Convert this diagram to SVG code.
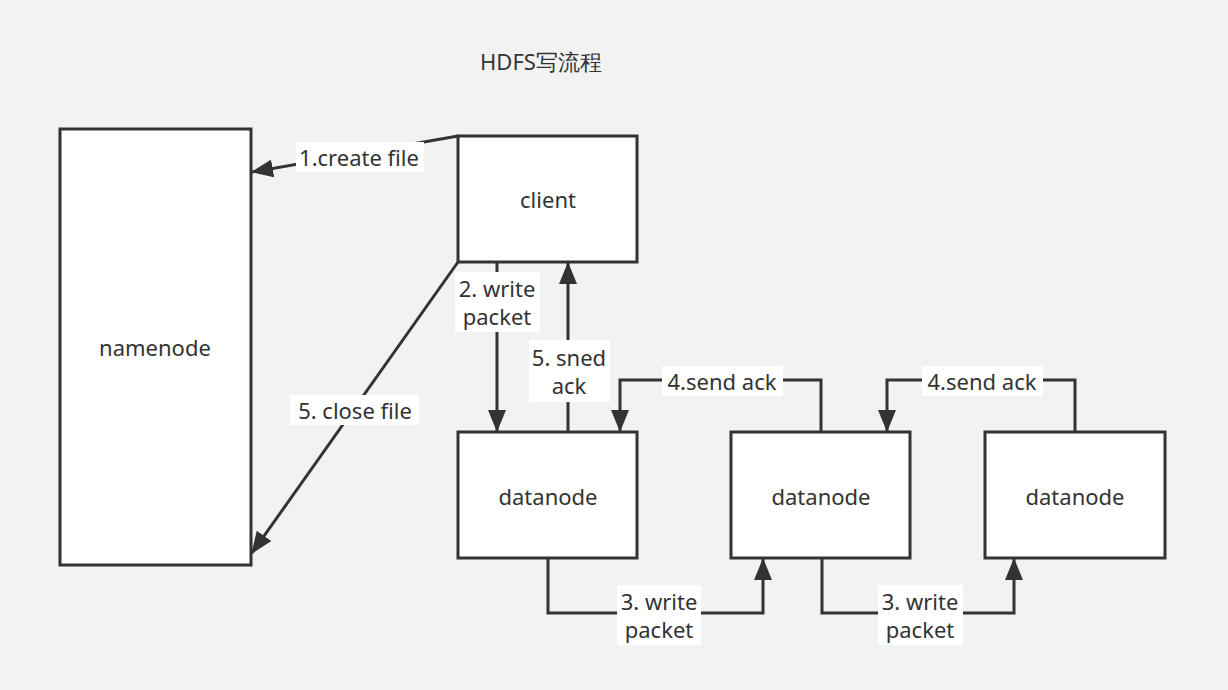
<svg xmlns="http://www.w3.org/2000/svg" width="1228" height="690" viewBox="0 0 1228 690">
<defs>
<style>
.node{fill:#fff;stroke:#333;stroke-width:3}
.edge{fill:none;stroke:#333;stroke-width:3}
text{font-family:"Noto Sans","Liberation Sans",sans-serif;font-size:22px;fill:#333;text-anchor:middle;dominant-baseline:central}
.lbg{fill:#fff}
</style>
<marker id="ah" markerUnits="userSpaceOnUse" markerWidth="22" markerHeight="18" viewBox="0 0 22 18" refX="21" refY="9" orient="auto">
<path d="M0,0 L22,9 L0,18 Z" fill="#333"/>
</marker>
</defs>
<rect width="1228" height="690" fill="#f2f2f2"/>
<text x="541" y="61">HDFS写流程</text>
<g id="namenode"><rect class="node" x="60" y="129" width="191" height="436"/><text x="155" y="347">namenode</text></g>
<g id="client"><rect class="node" x="458" y="136" width="179" height="126"/><text x="548" y="199">client</text></g>
<g id="datanode1"><rect class="node" x="458" y="432" width="179" height="126"/><text x="548" y="496">datanode</text></g>
<g id="datanode2"><rect class="node" x="731" y="432" width="179" height="126"/><text x="821" y="496">datanode</text></g>
<g id="datanode3"><rect class="node" x="985" y="432" width="180" height="126"/><text x="1075" y="496">datanode</text></g>
<g id="connectors">
<path class="edge" d="M458,136 L252,172" marker-end="url(#ah)"/>
<path class="edge" d="M497,262 L497,431" marker-end="url(#ah)"/>
<path class="edge" d="M568,432 L568,263" marker-end="url(#ah)"/>
<path class="edge" d="M458,262 L252,553" marker-end="url(#ah)"/>
<path class="edge" d="M821,432 L821,380 L620,380 L620,431" marker-end="url(#ah)"/>
<path class="edge" d="M1075,432 L1075,380 L887,380 L887,431" marker-end="url(#ah)"/>
<path class="edge" d="M548,558 L548,613 L763,613 L763,559" marker-end="url(#ah)"/>
<path class="edge" d="M822,558 L822,613 L1014,613 L1014,559" marker-end="url(#ah)"/>
<rect class="lbg" x="296" y="142" width="128" height="30"/><text x="359" y="157">1.create file</text>
<rect class="lbg" x="455" y="272" width="85" height="60"/><text x="497" y="288">2. write</text><text x="497" y="316">packet</text>
<rect class="lbg" x="529" y="340" width="81" height="62"/><text x="569" y="357">5. sned</text><text x="569" y="385">ack</text>
<rect class="lbg" x="290" y="395" width="129" height="30"/><text x="355" y="410">5. close file</text>
<rect class="lbg" x="662" y="366" width="121" height="30"/><text x="722" y="381">4.send ack</text>
<rect class="lbg" x="922" y="366" width="121" height="30"/><text x="982" y="381">4.send ack</text>
<rect class="lbg" x="617" y="585" width="84" height="60"/><text x="659" y="601">3. write</text><text x="659" y="629">packet</text>
<rect class="lbg" x="878" y="585" width="85" height="60"/><text x="920" y="601">3. write</text><text x="920" y="629">packet</text>
</g>
</svg>
